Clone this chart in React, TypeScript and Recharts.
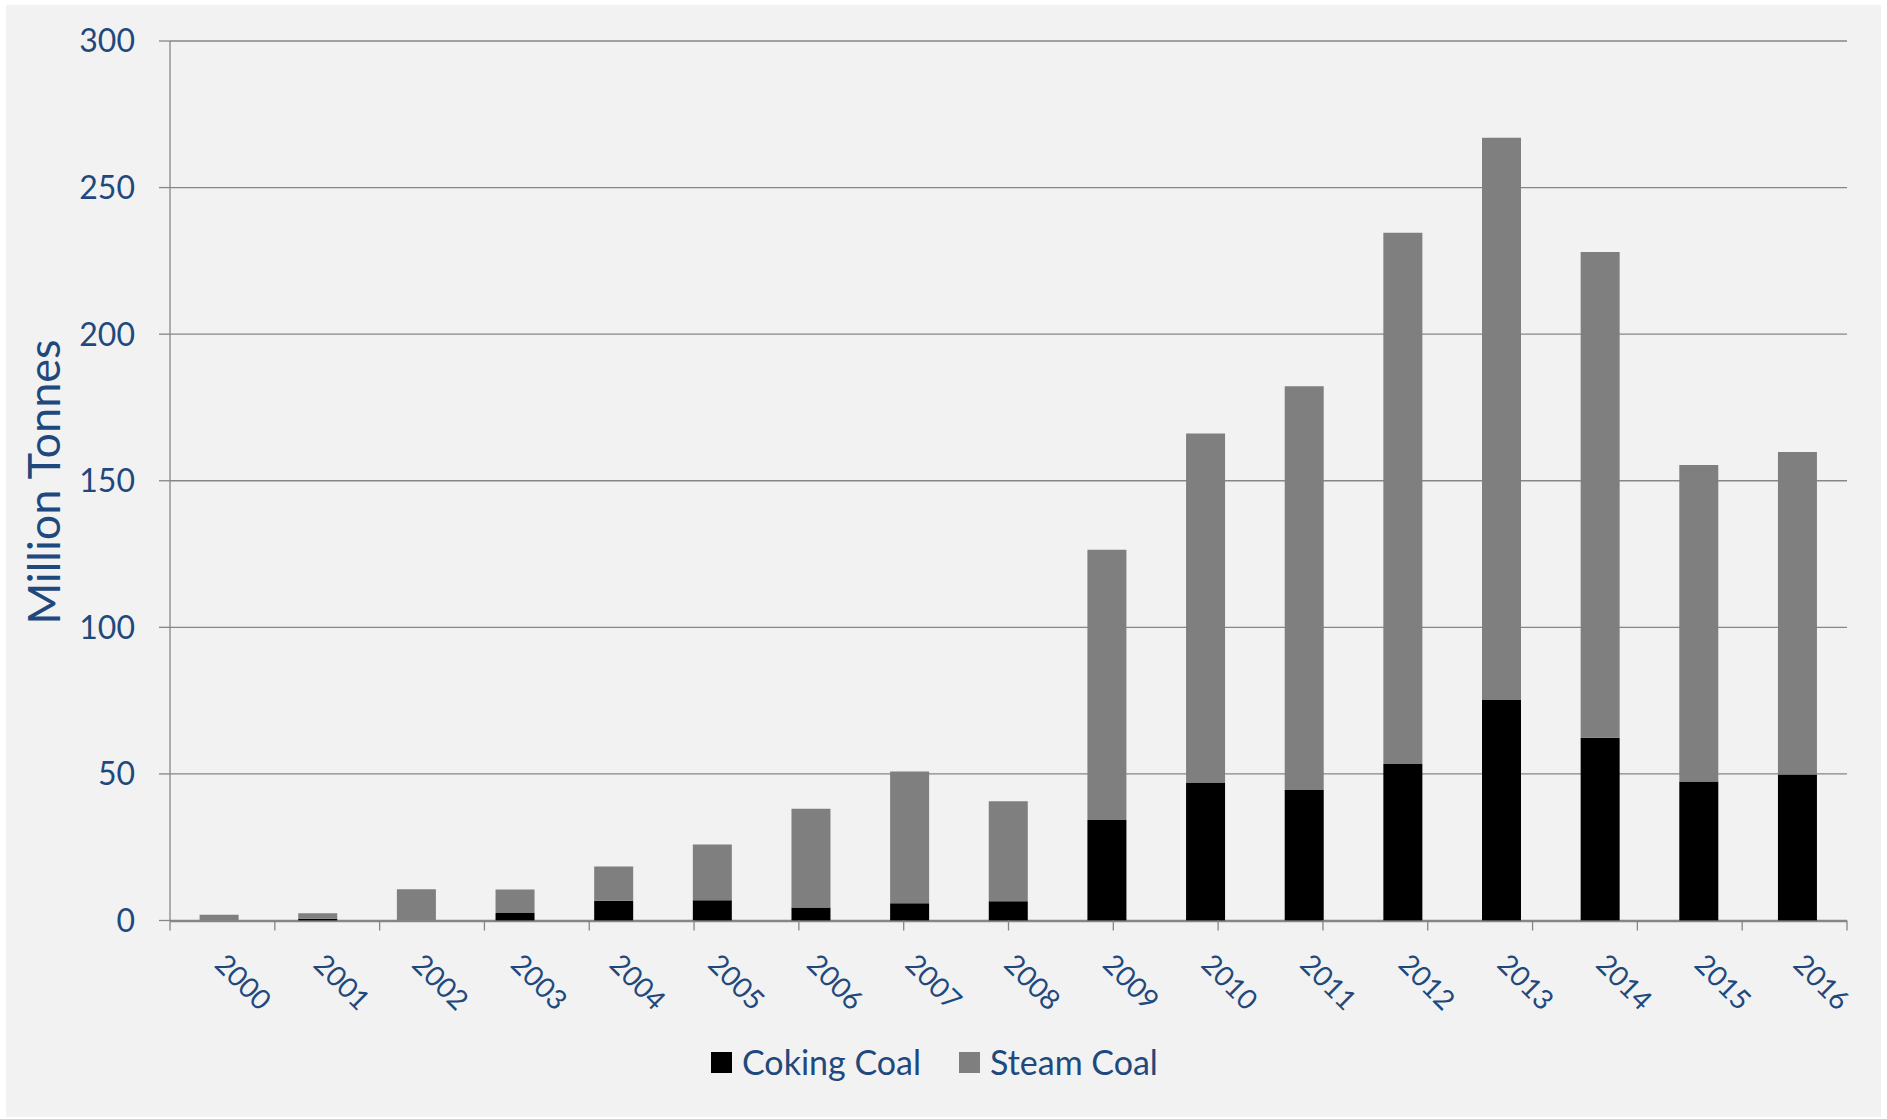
import React from 'react';
import { BarChart, Bar, XAxis, YAxis, CartesianGrid, Legend } from 'recharts';

const years = ['2000', '2001', '2002', '2003', '2004', '2005', '2006', '2007', '2008', '2009', '2010', '2011', '2012', '2013', '2014', '2015', '2016'];
const cokingCoal = [0, 0.6, 0, 2.6, 6.7, 6.9, 4.4, 5.9, 6.6, 34.3, 47.1, 44.5, 53.4, 75.2, 62.3, 47.4, 49.8];
const steamCoal = [2.0, 1.9, 10.7, 8.0, 11.7, 19.0, 33.7, 44.9, 34.1, 92.2, 119.0, 137.7, 181.2, 191.8, 165.7, 108.0, 110.0];
const yTicks = [0, 50, 100, 150, 200, 250, 300];
const boundaryTicks = [0, 1, 2, 3, 4, 5, 6, 7, 8, 9, 10, 11, 12, 13, 14, 15, 16, 17];

const TEXT = '#1f497d';
const GRID = '#868686';
const FONT = 'Lato, "Open Sans", sans-serif';

const data = years.map((year, i) => ({ year, coking: cokingCoal[i], steam: steamCoal[i] }));

const XTick = (props: any) => {
  const { x, y, payload } = props;
  const tx = x - 6;
  const ty = y + 34.5;
  return (
    <text
      x={tx}
      y={ty}
      transform={`rotate(45 ${tx} ${ty})`}
      textAnchor="start"
      fill={TEXT}
      fontSize={28}
      fontFamily={FONT}
    >
      {payload.value}
    </text>
  );
};

const EmptyTick = () => <g />;

const YTitle = () => (
  <text
    x={60}
    y={482}
    transform="rotate(-90 60 482)"
    textAnchor="middle"
    fill={TEXT}
    fontSize={45}
    fontFamily={FONT}
  >
    Million Tonnes
  </text>
);

const LegendContent = (props: any) => {
  const { payload } = props;
  return (
    <div style={{ display: 'flex', alignItems: 'center', height: 44, fontFamily: FONT, whiteSpace: 'nowrap' }}>
      {(payload || []).map((item: any, i: number) => (
        <div key={i} style={{ display: 'flex', alignItems: 'center', marginRight: 38, whiteSpace: 'nowrap' }}>
          <div style={{ width: 21, height: 21, background: item.color, marginRight: 10, flexShrink: 0 }} />
          <span style={{ color: TEXT, fontSize: 34, lineHeight: '44px', whiteSpace: 'nowrap' }}>{item.value}</span>
        </div>
      ))}
    </div>
  );
};

export default function App() {
  return (
    <div style={{ position: 'absolute', left: 0, top: 0, width: 1887, height: 1119, background: '#ffffff' }}>
      <div style={{ position: 'absolute', left: 6, top: 5, width: 1875, height: 1112, background: '#f2f2f2' }} />
      <div style={{ position: 'absolute', left: 0, top: 0 }}>
        <BarChart
          width={1887}
          height={1119}
          data={data}
          margin={{ top: 41, right: 40, bottom: 196.5, left: 40 }}
          barCategoryGap="30%"
        >
          <CartesianGrid xAxisId="cat" vertical={false} stroke={GRID} strokeWidth={1.3} />
          <XAxis
            xAxisId="cat"
            dataKey="year"
            height={1}
            interval={0}
            tickLine={false}
            tickSize={10}
            tickMargin={0}
            axisLine={{ stroke: GRID, strokeWidth: 1.6 }}
            tick={<XTick />}
          />
          <XAxis
            xAxisId="bounds"
            type="number"
            domain={[0, 17]}
            ticks={boundaryTicks}
            interval={0}
            allowDataOverflow
            height={1}
            tick={<EmptyTick />}
            axisLine={false}
            tickLine={{ stroke: GRID, strokeWidth: 1.3 }}
            tickSize={10}
          />
          <YAxis
            domain={[0, 300]}
            ticks={yTicks}
            width={130}
            tickSize={11}
            tickMargin={24}
            axisLine={{ stroke: GRID, strokeWidth: 1.3 }}
            tickLine={{ stroke: GRID, strokeWidth: 1.3 }}
            tick={{ fill: TEXT, fontSize: 32, fontFamily: FONT }}
            label={<YTitle />}
          />
          <Legend
            verticalAlign="middle"
            align="center"
            layout="horizontal"
            wrapperStyle={{ left: 711, top: 1040, width: 700, height: 44 }}
            content={<LegendContent />}
          />
          <Bar xAxisId="cat" dataKey="coking" name="Coking Coal" stackId="a" fill="#000000" isAnimationActive={false} />
          <Bar xAxisId="cat" dataKey="steam" name="Steam Coal" stackId="a" fill="#7f7f7f" isAnimationActive={false} />
        </BarChart>
      </div>
    </div>
  );
}
